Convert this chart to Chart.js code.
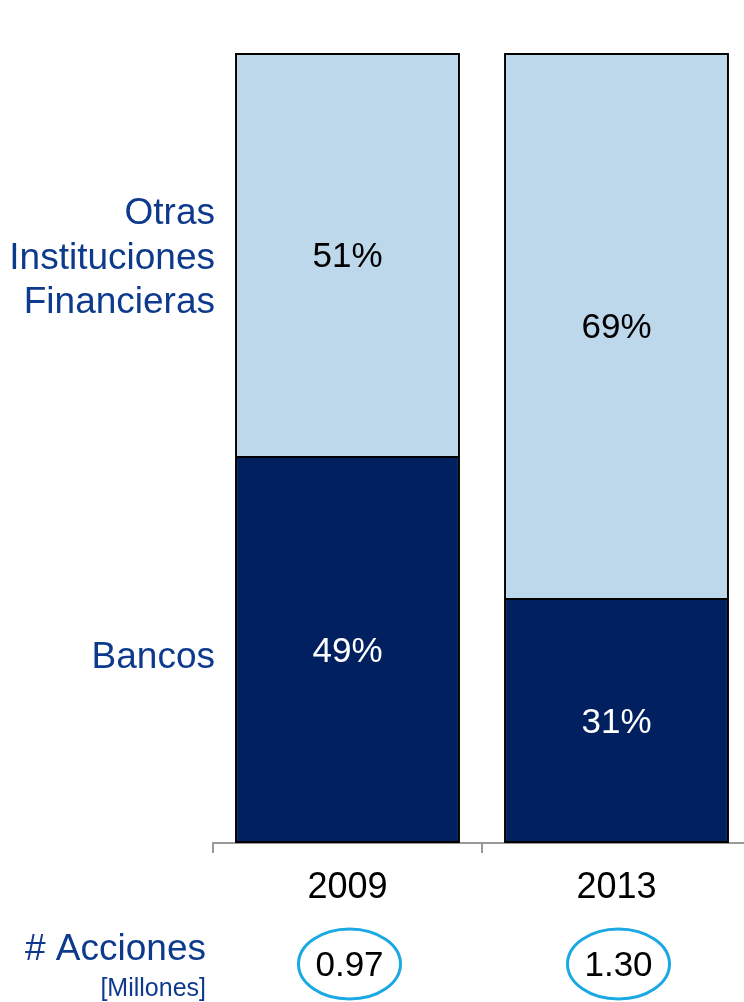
<!DOCTYPE html>
<html>
<head>
<meta charset="utf-8">
<script src="https://cdn.jsdelivr.net/npm/chart.js@4/dist/chart.umd.min.js"></script>
<style>
  html, body { margin: 0; padding: 0; background: #ffffff; overflow: hidden; }
  canvas { display: block; }
</style>
</head>
<body>
<canvas id="shareChart" width="760" height="1002"></canvas>
<script>
// Chart data
const years = ["2009", "2013"];
const bancos = [49, 31];
const otras = [51, 69];
const acciones = ["0.97", "1.30"];
const seriesNames = [["Otras", "Instituciones", "Financieras"], ["Bancos"]];

const FONT = "'Liberation Sans', Arial, sans-serif";
const LABEL_BLUE = "#0d3a8c";

// labels inside bars, series names on the left, share counts underneath
const annotations = {
  id: "annotations",
  afterDatasetsDraw(chart) {
    const ctx = chart.ctx;
    const y = chart.scales.y;
    ctx.save();
    ctx.textAlign = "center";
    ctx.textBaseline = "middle";
    ctx.font = "35px " + FONT;
    chart.data.datasets.forEach(function (ds, i) {
      chart.getDatasetMeta(i).data.forEach(function (bar, j) {
        const p = bar.getProps(["x", "y", "base"], true);
        ctx.fillStyle = i === 0 ? "#ffffff" : "#000000";
        ctx.fillText(ds.data[j] + "%", p.x, (p.y + p.base) / 2 + 3);
      });
    });

    // left side series names
    ctx.textAlign = "right";
    ctx.fillStyle = LABEL_BLUE;
    ctx.font = "37px " + FONT;
    const otrasY = y.getPixelForValue(74);
    seriesNames[0].forEach(function (line, k) {
      ctx.fillText(line, 215, otrasY + (k - 1) * 44.5);
    });
    ctx.fillText(seriesNames[1][0], 215, y.getPixelForValue(23.5));

    // bottom row
    ctx.fillText("# Acciones", 206, 950);
    ctx.font = "25px " + FONT;
    ctx.fillText("[Millones]", 206, 989);

    ctx.textAlign = "center";
    ctx.font = "35px " + FONT;
    const meta = chart.getDatasetMeta(0);
    acciones.forEach(function (v, j) {
      const cx = meta.data[j].x + 2;
      ctx.beginPath();
      ctx.ellipse(cx, 964, 51, 35, 0, 0, Math.PI * 2);
      ctx.strokeStyle = "#1aa9e3";
      ctx.lineWidth = 3;
      ctx.stroke();
      ctx.fillStyle = "#000000";
      ctx.fillText(v, cx, 966);
    });
    ctx.restore();
  },
};

new Chart(document.getElementById("shareChart"), {
  type: "bar",
  data: {
    labels: years,
    datasets: [
      {
        label: "Bancos",
        data: bancos,
        backgroundColor: "#00205f",
        borderColor: "#000000",
        borderWidth: 2,
        borderSkipped: false,
      },
      {
        label: "Otras Instituciones Financieras",
        data: otras,
        backgroundColor: "#bdd7eb",
        borderColor: "#000000",
        borderWidth: { top: 2, left: 2, right: 2, bottom: 0 },
        borderSkipped: false,
      },
    ],
  },
  options: {
    responsive: false,
    animation: false,
    categoryPercentage: 1,
    barPercentage: 0.836,
    layout: {
      padding: { left: 213, right: 9, top: 53, bottom: 99 },
    },
    plugins: {
      legend: { display: false },
      tooltip: { enabled: false },
    },
    scales: {
      x: {
        stacked: true,
        grid: {
          drawOnChartArea: false,
          color: "#999999",
          tickLength: 10,
          lineWidth: 2,
        },
        border: { color: "#999999", width: 2 },
        ticks: {
          color: "#000000",
          padding: 13,
          font: { family: FONT, size: 36 },
        },
        afterFit: function (scale) {
          scale.height = 60;
        },
      },
      y: {
        stacked: true,
        display: false,
        min: 0,
        max: 100,
      },
    },
  },
  plugins: [annotations],
});
</script>
</body>
</html>
